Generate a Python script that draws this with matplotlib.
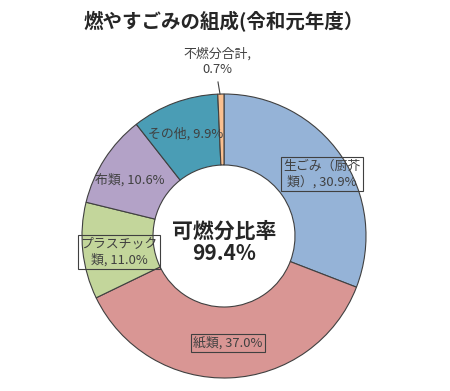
import matplotlib
matplotlib.use("Agg")
import matplotlib.pyplot as plt

plt.rcParams["font.family"] = ["Noto Sans CJK JP", "DejaVu Sans"]

# composition of burnable waste (FY2019), clockwise from 12 o'clock
categories = ["生ごみ（厨芥類）", "紙類", "プラスチック類", "布類", "その他", "不燃分合計"]
shares = [30.9, 37.0, 11.0, 10.6, 9.9, 0.7]
colors = ["#95B3D7", "#D99694", "#C3D69B", "#B3A2C7", "#4A9DB5", "#FAC090"]
label_texts = ["生ごみ（厨芥\n類）, 30.9%", "紙類, 37.0%", "プラスチック\n類, 11.0%",
               "布類, 10.6%", "その他, 9.9%", "不燃分合計,\n0.7%"]
boxed = [True, True, True, False, False, False]
combustible_ratio = "99.4%"

W, H = 450, 391
fig = plt.figure(figsize=(W / 100, H / 100), dpi=100)
ax = fig.add_axes([0, 0, 1, 1])

cx, cy, r = 224, H - 236, 142
ax.pie(shares, colors=colors, startangle=90, counterclock=False,
       center=(cx, cy), radius=r,
       wedgeprops=dict(width=r * 0.5, edgecolor="#404040", linewidth=0.8))
ax.set_xlim(0, W)
ax.set_ylim(0, H)
ax.set_aspect("equal")
ax.axis("off")

# label positions in pixel space (x, y from top)
label_pos = [(322, 174), (228, 343), (119, 252), (130, 180), (186, 134), (217, 62)]
for txt, (lx, ly), b in zip(label_texts, label_pos, boxed):
    kw = {}
    if b:
        kw["bbox"] = dict(boxstyle="square,pad=0.2", facecolor="none",
                          edgecolor="#404040", linewidth=0.8)
    ax.text(lx, H - ly, txt, ha="center", va="center", fontsize=9.3,
            color="#404040", linespacing=1.25, **kw)

# leader line for the tiny slice
ax.plot([218, 220], [H - 82, H - 94], color="#404040", linewidth=0.8)

ax.text(cx, cy + 5, "可燃分比率", ha="center", va="center", fontsize=15,
        fontweight="bold", color="#262626")
ax.text(cx, cy - 17, combustible_ratio, ha="center", va="center", fontsize=15,
        fontweight="bold", color="#262626")

ax.text(224, H - 22, "燃やすごみの組成(令和元年度）", ha="center", va="center",
        fontsize=14, fontweight="bold", color="#262626")

fig.savefig("out.png", dpi=100)
